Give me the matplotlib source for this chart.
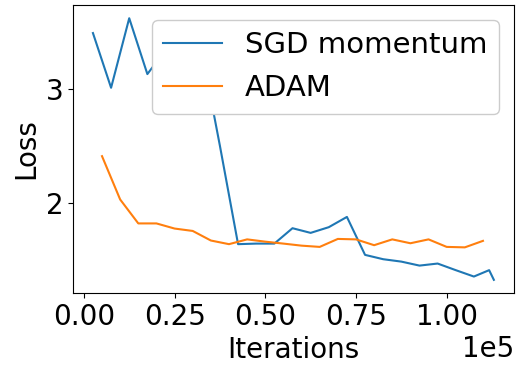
import matplotlib
matplotlib.use("Agg")
import matplotlib.pyplot as plt

sgd_iters = [2500, 7500, 12500, 17500, 22500, 27500, 32500, 37500, 42500, 47500,
             52500, 57500, 62500, 67500, 72500, 77500, 82500, 87500, 92500, 97500,
             102500, 107500, 111700, 113000]
sgd_loss = [3.49, 3.01, 3.62, 3.13, 3.34, 3.42, 3.33, 2.50, 1.638, 1.643,
            1.643, 1.778, 1.737, 1.787, 1.877, 1.544, 1.506, 1.485, 1.45, 1.468,
            1.41, 1.354, 1.41, 1.325]

adam_iters = [5000, 10000, 15000, 20000, 25000, 30000, 35000, 40000, 45000, 50000,
              55000, 60000, 65000, 70000, 75000, 80000, 85000, 90000, 95000, 100000,
              105000, 110000]
adam_loss = [2.41, 2.03, 1.82, 1.82, 1.775, 1.754, 1.67, 1.638, 1.68, 1.66,
             1.643, 1.625, 1.614, 1.684, 1.68, 1.629, 1.68, 1.646, 1.68, 1.614,
             1.61, 1.667]

plt.rcParams['font.size'] = 20
fig, ax = plt.subplots(figsize=(5.17, 3.68), dpi=100)
fig.subplots_adjust(left=0.141, right=0.994, top=0.986, bottom=0.204)
ax.plot(sgd_iters, sgd_loss, label="SGD momentum", color="#1f77b4", linewidth=1.5)
ax.plot(adam_iters, adam_loss, label="ADAM", color="#ff7f0e", linewidth=1.5)
ax.set_xlabel("Iterations")
ax.set_ylabel("Loss")
ax.set_yticks([2, 3])
ax.ticklabel_format(axis='x', style='sci', scilimits=(0, 0))
ax.legend(loc="upper right", fontsize=21, framealpha=1.0)
fig.savefig("out.png", dpi=100)
